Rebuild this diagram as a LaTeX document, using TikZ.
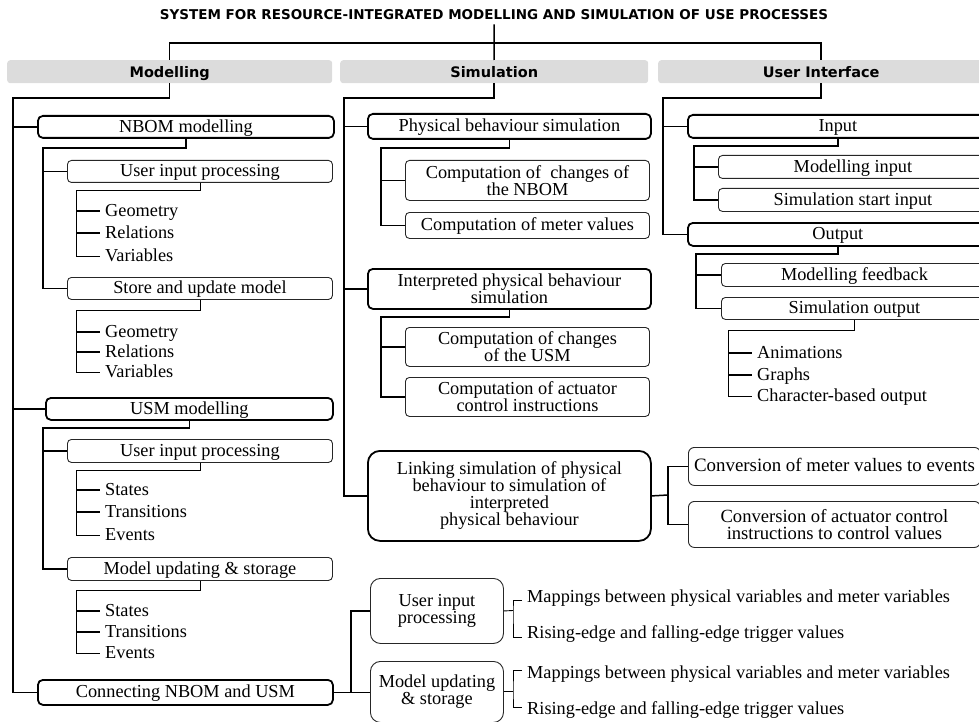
\documentclass[tikz,border=0pt]{standalone}
\usepackage{fontspec}
\setmainfont{Liberation Serif}
\newfontfamily\hdfont{DejaVu Sans}
\definecolor{hdrgray}{HTML}{DCDCDC}
\begin{document}
\begin{tikzpicture}[x=1pt,y=-1pt,
  every node/.style={font=\fontsize{18.3}{17}\selectfont},
  box/.style={draw=black!85, line width=0.9pt, rounded corners=4pt, inner sep=0pt,
    align=center, anchor=north west, text height=14pt, text depth=3pt},
  multi/.style={text height={}, text depth={}},
  bbox/.style={box, draw=black, line width=1.8pt, rounded corners=5pt},
  hdr/.style={fill=hdrgray, rounded corners=3pt, inner sep=0pt, anchor=north west,
    text height=14pt, text depth=3pt,
    font=\hdfont\bfseries\fontsize{14.5}{17}\selectfont},
  leaf/.style={anchor=west, inner xsep=5pt, inner ysep=0pt, text height=13pt, text depth=3pt},
  conn/.style={line width=1.5pt},
  fine/.style={line width=0.9pt}]
\useasboundingbox (0,0) rectangle (979,722);
\clip (0,0) rectangle (979,722);

% title and the three column headers
\node[font=\hdfont\bfseries\fontsize{13.5}{16}\selectfont, inner sep=0pt] (title) at (494,15)
  {SYSTEM FOR RESOURCE-INTEGRATED MODELLING AND SIMULATION OF USE PROCESSES};
\node[hdr, minimum width=325, minimum height=23] (hmod) at (7,60) {Modelling};
\node[hdr, minimum width=308, minimum height=23] (hsim) at (340,60) {Simulation};
\node[hdr, minimum width=326, minimum height=23] (hui) at (658,60) {User Interface};
\draw[conn] (title.south) ++(0,4) -- (hsim.north);
\draw[conn] (hmod.north) -- ++(0,-17) -| (hui.north);

% ---------------- Modelling column ----------------
\node[bbox, minimum width=296, minimum height=22] (nbom) at (37,115) {NBOM modelling};
\node[box, minimum width=265, minimum height=22] (uip1) at (67,160) {User input processing};
\node[box, minimum width=265, minimum height=22] (sum) at (67,277) {Store and update model};
\node[bbox, minimum width=287, minimum height=22] (usm) at (45,397) {USM modelling};
\node[box, minimum width=265, minimum height=23] (uip2) at (67,439) {User input processing};
\node[box, minimum width=265, minimum height=23] (mus) at (67,557) {Model updating \& storage};
\node[bbox, minimum width=295, minimum height=25] (cnu) at (37,679) {Connecting NBOM and USM};

\node[leaf] (g1) at (100,211) {Geometry};
\node[leaf] (r1) at (100,233) {Relations};
\node[leaf] (v1) at (100,256) {Variables};
\node[leaf] (g2) at (100,332) {Geometry};
\node[leaf] (r2) at (100,352) {Relations};
\node[leaf] (v2) at (100,372) {Variables};
\node[leaf] (s1) at (100,490) {States};
\node[leaf] (t1) at (100,512) {Transitions};
\node[leaf] (e1) at (100,535) {Events};
\node[leaf] (s2) at (100,611) {States};
\node[leaf] (t2) at (100,632) {Transitions};
\node[leaf] (e2) at (100,653) {Events};

\coordinate (mspine) at (13,98);
\draw[conn] (hmod.south) |- (mspine) |- (cnu.west);
\draw[conn] (mspine |- nbom.west) -- (nbom.west);
\draw[conn] (mspine |- usm.west) -- (usm.west);

\coordinate (nspine) at (43,148);
\draw[conn] (nbom.south) |- (nspine) |- (sum.west);
\draw[conn] (nspine |- uip1.west) -- (uip1.west);
\coordinate (l1) at (76,190);
\draw[fine] (uip1.south) |- (l1) |- (v1.west);
\draw[conn] (l1 |- g1.west) -- (g1.west);
\draw[conn] (l1 |- r1.west) -- (r1.west);
\coordinate (l2) at (76,310);
\draw[fine] (sum.south) |- (l2) |- (v2.west);
\draw[conn] (l2 |- g2.west) -- (g2.west);
\draw[conn] (l2 |- r2.west) -- (r2.west);

\coordinate (uspine) at (43,428);
\draw[conn] (usm.south) |- (uspine) |- (mus.west);
\draw[conn] (uspine |- uip2.west) -- (uip2.west);
\coordinate (l3) at (76,470);
\draw[fine] (uip2.south) |- (l3) |- (e1.west);
\draw[conn] (l3 |- s1.west) -- (s1.west);
\draw[conn] (l3 |- t1.west) -- (t1.west);
\coordinate (l4) at (76,590);
\draw[fine] (mus.south) |- (l4) |- (e2.west);
\draw[conn] (l4 |- s2.west) -- (s2.west);
\draw[conn] (l4 |- t2.west) -- (t2.west);

% connecting the two models
\node[box, multi, rounded corners=10pt, minimum width=133, minimum height=65] (uipc) at (370,578)
  {User input\\processing};
\node[box, multi, rounded corners=10pt, minimum width=133, minimum height=61] (mupc) at (370,661)
  {Model updating\\\& storage};
\node[leaf] (map1) at (522,597) {Mappings between physical variables and meter variables};
\node[leaf] (ris1) at (522,633) {Rising-edge and falling-edge trigger values};
\node[leaf] (map2) at (522,673) {Mappings between physical variables and meter variables};
\node[leaf] (ris2) at (522,709) {Rising-edge and falling-edge trigger values};

\coordinate (cj) at (351,691.5);
\draw[fine, line width=1.2pt] (cnu.east) -- (cnu.east -| mupc.west);
\draw[fine, line width=1.2pt] (cj) |- (uipc.west);
\coordinate (b1) at (513,610.5);
\coordinate (b1t) at (522,600);
\coordinate (b1b) at (522,637);
\draw[fine] (uipc.east) -- (b1);
\draw[fine] (b1t) -| (b1) |- (b1b);
\coordinate (b2) at (513,691.5);
\coordinate (b2t) at (522,670);
\coordinate (b2b) at (522,707);
\draw[fine] (mupc.east |- b2) -- (b2);
\draw[fine] (b2t) -| (b2) |- (b2b);

% ---------------- Simulation column ----------------
\node[bbox, minimum width=283, minimum height=25] (pbs) at (367,113) {Physical behaviour simulation};
\node[box, multi, minimum width=244, minimum height=40] (ccn) at (405,160)
  {Computation of~ changes of\\the NBOM};
\node[box, minimum width=244, minimum height=26] (cmv) at (405,212) {Computation of meter values};
\node[bbox, multi, minimum width=283, minimum height=40] (ipbs) at (367,268)
  {Interpreted physical behaviour\\simulation};
\node[box, multi, minimum width=244, minimum height=39] (ccu) at (405,327)
  {Computation of changes\\of the USM};
\node[box, multi, minimum width=244, minimum height=39] (caci) at (405,377)
  {Computation of actuator\\control instructions};
\node[bbox, multi, rounded corners=12pt, minimum width=283, minimum height=90] (link) at (367,450)
  {Linking simulation of physical\\behaviour to simulation of\\interpreted\\physical behaviour};
\node[box, rounded corners=6pt, minimum width=292, minimum height=38,
  font=\fontsize{18.9}{17}\selectfont] (cmve) at (688,447)
  {Conversion of meter values to events};
\node[box, multi, rounded corners=6pt, minimum width=292, minimum height=46,
  font=\fontsize{18.6}{17.5}\selectfont] (caccv) at (688,501)
  {Conversion of actuator control\\instructions to control values};

\coordinate (sspine) at (344,98);
\draw[conn] (hsim.south) |- (sspine) |- (link.west);
\draw[conn] (sspine |- pbs.west) -- (pbs.west);
\draw[conn] (sspine |- ipbs.west) -- (ipbs.west);
\coordinate (p1) at (381,148);
\draw[conn] (pbs.south) |- (p1) |- (cmv.west);
\draw[conn] (p1 |- ccn.west) -- (ccn.west);
\coordinate (p2) at (381,317);
\draw[conn] (ipbs.south) |- (p2) |- (caci.west);
\draw[conn] (p2 |- ccu.west) -- (ccu.west);
\coordinate (lj) at (668,495);
\draw[conn] (link.east) -- (lj);
\draw[fine, line width=1.2pt] (cmve.west) -| (lj) |- (caccv.west);

% ---------------- User Interface column ----------------
\node[bbox, minimum width=300, minimum height=23] (inp) at (687,114) {Input};
\node[box, minimum width=269, minimum height=23] (minp) at (718,155) {Modelling input};
\node[box, minimum width=269, minimum height=23] (ssi) at (718,188) {Simulation start input};
\node[bbox, minimum width=300, minimum height=23] (outp) at (687,222) {Output};
\node[box, minimum width=266, minimum height=23] (mfb) at (721,263) {Modelling feedback};
\node[box, minimum width=266, minimum height=22] (sout) at (721,297) {Simulation output};
\node[leaf] (ani) at (752,353) {Animations};
\node[leaf] (gra) at (752,375) {Graphs};
\node[leaf] (cbo) at (752,396) {Character-based output};

\coordinate (uispine) at (663,98);
\draw[conn] (hui.south) |- (uispine) |- (outp.west);
\draw[conn] (uispine |- inp.west) -- (inp.west);
\coordinate (i1) at (694,146);
\draw[fine, line width=1.2pt] (inp.south) |- (i1) |- (ssi.west);
\draw[conn] (i1 |- minp.west) -- (minp.west);
\coordinate (o1) at (696,254);
\draw[fine, line width=1.2pt] (outp.south) |- (o1) |- (sout.west);
\draw[conn] (o1 |- mfb.west) -- (mfb.west);
\coordinate (o2) at (728,330);
\draw[fine] (sout.south) |- (o2) |- (cbo.west);
\draw[conn] (o2 |- ani.west) -- (ani.west);
\draw[conn] (o2 |- gra.west) -- (gra.west);
\end{tikzpicture}
\end{document}
